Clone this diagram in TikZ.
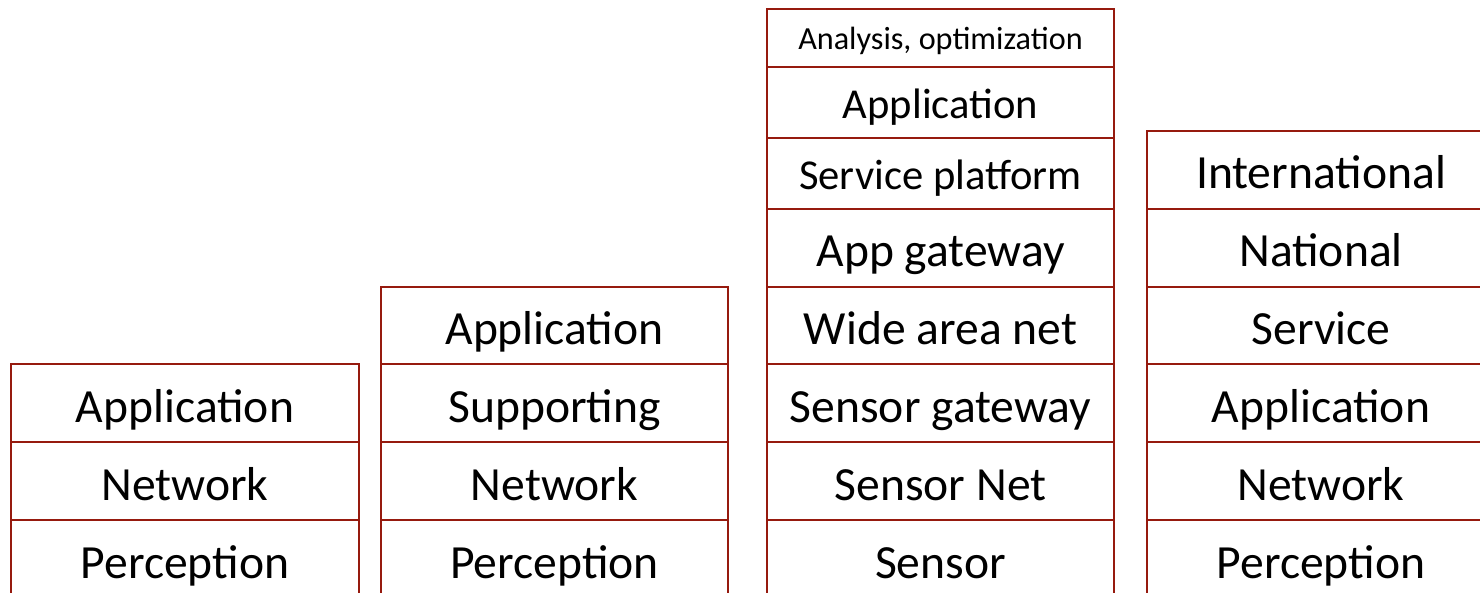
\documentclass[tikz,border=0pt]{standalone}
\usepackage{fontspec}
\setmainfont{Carlito}
\definecolor{boxred}{RGB}{150,26,14}
\tikzset{
  cell/.style={draw=boxred, line width=2.2pt, rectangle, inner sep=0pt, outer sep=0pt,
    font=\fontsize{47.6}{52}\selectfont, text height=38pt, text depth=0pt, align=center},
  midtext/.style={font=\fontsize{42.6}{47}\selectfont, text height=32pt},
  smalltext/.style={font=\fontsize{32.2}{36}\selectfont, text height=24pt},
  colA/.style={minimum width=348pt},
  colB/.style={minimum width=347pt},
  h58/.style={minimum height=58pt},
  h71/.style={minimum height=71pt},
  h77/.style={minimum height=77pt},
  h78/.style={minimum height=78pt},
}
\begin{document}
\begin{tikzpicture}[x=1pt,y=-1pt]
\useasboundingbox (0,0) rectangle (1480,593);
\clip (0,0) rectangle (1480,593);
% column 1
\node[cell,colA,h78] (a1) at (185,403) {Application};
\node[cell,colA,h78] (a2) at (185,481) {Network};
\node[cell,colA,h78] (a3) at (185,559) {Perception};
% column 2
\node[cell,colB,h77] (b1) at (554.5,325.5) {Application};
\node[cell,colB,h78] (b2) at (554.5,403) {Supporting};
\node[cell,colB,h78] (b3) at (554.5,481) {Network};
\node[cell,colB,h78] (b4) at (554.5,559) {Perception};
% column 3
\node[cell,colB,h58,smalltext] (c1) at (940.5,38) {Analysis, optimization};
\node[cell,colB,h71,midtext] (c2) at (940.5,102.5) {Application};
\node[cell,colB,h71,midtext] (c3) at (940.5,173.5) {Service platform};
\node[cell,colB,h78] (c4) at (940.5,248) {App gateway};
\node[cell,colB,h77] (c5) at (940.5,325.5) {Wide area net};
\node[cell,colB,h78] (c6) at (940.5,403) {Sensor gateway};
\node[cell,colB,h78] (c7) at (940.5,481) {Sensor Net};
\node[cell,colB,h78] (c8) at (940.5,559) {Sensor};
% column 4
\node[cell,colA,h78] (d1) at (1321,170) {International};
\node[cell,colA,h78] (d2) at (1321,248) {National};
\node[cell,colA,h77] (d3) at (1321,325.5) {Service};
\node[cell,colA,h78] (d4) at (1321,403) {Application};
\node[cell,colA,h78] (d5) at (1321,481) {Network};
\node[cell,colA,h78] (d6) at (1321,559) {Perception};
\end{tikzpicture}
\end{document}
